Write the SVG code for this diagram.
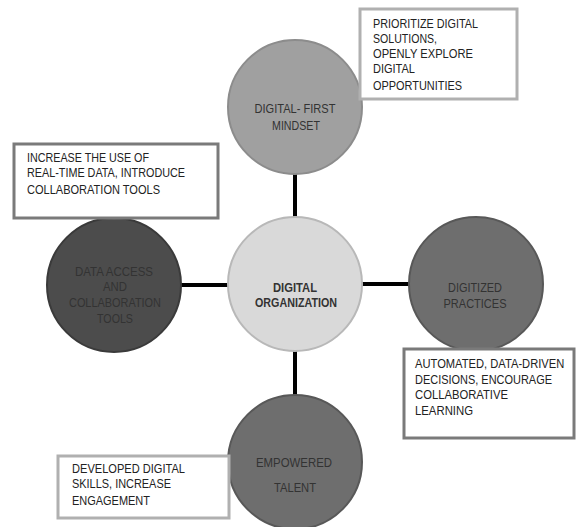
<svg xmlns="http://www.w3.org/2000/svg" width="578" height="527" viewBox="0 0 578 527">
<style>
text{font-family:"Liberation Sans",Arial,sans-serif;font-size:13px}
.box{fill:#fff;stroke-width:3}
.lt{stroke:#b0b0b0}
.dk{stroke:#7a7a7a}
.bt{fill:#222}
.ct{text-anchor:middle;fill:#333}
.conn{stroke:#000;stroke-width:4}
</style>
<rect width="578" height="527" fill="#fff"/>
<g id="connectors">
<line class="conn" x1="295" y1="172" x2="295" y2="219"/>
<line class="conn" x1="180" y1="285" x2="228" y2="285"/>
<line class="conn" x1="362" y1="284" x2="409" y2="284"/>
<line class="conn" x1="295" y1="349" x2="295" y2="396"/>
</g>
<g id="center">
<circle cx="295" cy="284" r="67" fill="#d9d9d9" stroke="#b8b8b8" stroke-width="2"/>
<text class="ct" x="295" y="292" font-weight="bold" fill="#222" textLength="44" lengthAdjust="spacingAndGlyphs">DIGITAL</text>
<text class="ct" x="296" y="307" font-weight="bold" fill="#222" textLength="82" lengthAdjust="spacingAndGlyphs">ORGANIZATION</text>
</g>
<g id="top">
<circle cx="295" cy="107" r="67" fill="#a0a0a0" stroke="#8c8c8c" stroke-width="2"/>
<text class="ct" x="295" y="113" textLength="81" lengthAdjust="spacingAndGlyphs">DIGITAL- FIRST</text>
<text class="ct" x="296" y="130" textLength="48" lengthAdjust="spacingAndGlyphs">MINDSET</text>
</g>
<g id="top-note">
<rect class="box lt" x="360" y="9" width="157" height="90"/>
<text class="bt" x="373" y="28" textLength="105" lengthAdjust="spacingAndGlyphs">PRIORITIZE DIGITAL</text>
<text class="bt" x="373" y="43" textLength="64" lengthAdjust="spacingAndGlyphs">SOLUTIONS,</text>
<text class="bt" x="373" y="58" textLength="100" lengthAdjust="spacingAndGlyphs">OPENLY EXPLORE</text>
<text class="bt" x="373" y="73" textLength="42" lengthAdjust="spacingAndGlyphs">DIGITAL</text>
<text class="bt" x="373" y="90" textLength="89" lengthAdjust="spacingAndGlyphs">OPPORTUNITIES</text>
</g>
<g id="left">
<circle cx="114" cy="285" r="67" fill="#4c4c4c" stroke="#3a3a3a" stroke-width="2"/>
<text class="ct" x="114" y="276" fill="#2e2e2e" textLength="78" lengthAdjust="spacingAndGlyphs">DATA ACCESS</text>
<text class="ct" x="115" y="291" fill="#2e2e2e" textLength="24" lengthAdjust="spacingAndGlyphs">AND</text>
<text class="ct" x="115" y="307" fill="#2e2e2e" textLength="92" lengthAdjust="spacingAndGlyphs">COLLABORATION</text>
<text class="ct" x="115" y="323" fill="#2e2e2e" textLength="36" lengthAdjust="spacingAndGlyphs">TOOLS</text>
</g>
<g id="left-note">
<rect class="box dk" x="14" y="144" width="204" height="74"/>
<text class="bt" x="27" y="162" textLength="122" lengthAdjust="spacingAndGlyphs">INCREASE THE USE OF</text>
<text class="bt" x="27" y="177" textLength="158" lengthAdjust="spacingAndGlyphs">REAL-TIME DATA, INTRODUCE</text>
<text class="bt" x="27" y="194" textLength="133" lengthAdjust="spacingAndGlyphs">COLLABORATION TOOLS</text>
</g>
<g id="right">
<circle cx="476" cy="284" r="67" fill="#6e6e6e" stroke="#585858" stroke-width="2"/>
<text class="ct" x="475" y="292" textLength="54" lengthAdjust="spacingAndGlyphs">DIGITIZED</text>
<text class="ct" x="475" y="308" textLength="63" lengthAdjust="spacingAndGlyphs">PRACTICES</text>
</g>
<g id="right-note">
<rect class="box dk" x="404" y="349" width="170" height="89"/>
<text class="bt" transform="translate(415,368) scale(0.86,1)" x="0" y="0">AUTOMATED, DATA-DRIVEN</text>
<text class="bt" x="415" y="384" textLength="137" lengthAdjust="spacingAndGlyphs">DECISIONS, ENCOURAGE</text>
<text class="bt" x="415" y="399" textLength="93" lengthAdjust="spacingAndGlyphs">COLLABORATIVE</text>
<text class="bt" x="415" y="415" textLength="58" lengthAdjust="spacingAndGlyphs">LEARNING</text>
</g>
<g id="bottom">
<circle cx="295" cy="462" r="67" fill="#6e6e6e" stroke="#585858" stroke-width="2"/>
<text class="ct" x="294" y="467" textLength="76" lengthAdjust="spacingAndGlyphs">EMPOWERED</text>
<text class="ct" x="295" y="492" textLength="42" lengthAdjust="spacingAndGlyphs">TALENT</text>
</g>
<g id="bottom-note">
<rect class="box lt" x="58" y="456" width="171" height="62"/>
<text class="bt" x="72" y="473" textLength="113" lengthAdjust="spacingAndGlyphs">DEVELOPED DIGITAL</text>
<text class="bt" x="72" y="488" textLength="99" lengthAdjust="spacingAndGlyphs">SKILLS, INCREASE</text>
<text class="bt" x="72" y="505" textLength="78" lengthAdjust="spacingAndGlyphs">ENGAGEMENT</text>
</g>
</svg>
